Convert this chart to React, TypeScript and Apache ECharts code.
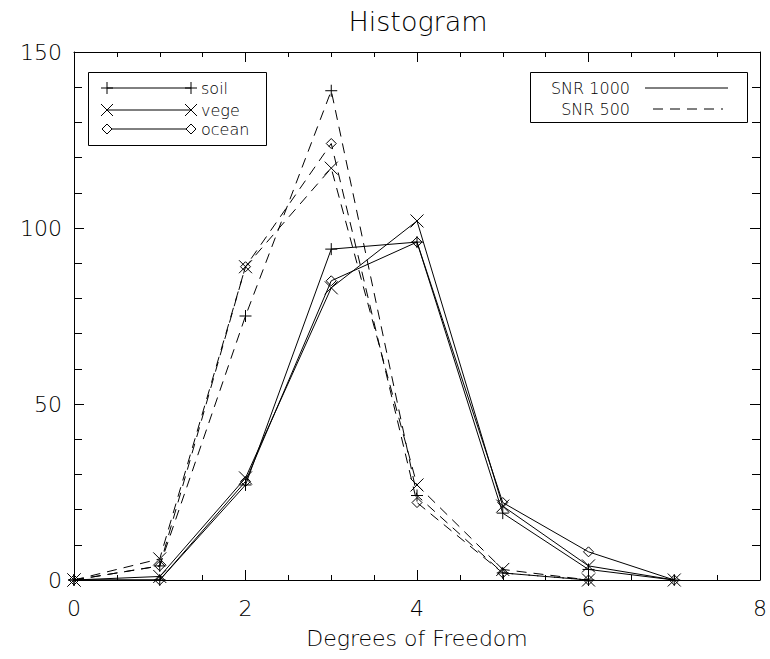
import React, { useEffect, useRef } from "react";
import * as echarts from "echarts";

const degrees1000 = [0, 1, 2, 3, 4, 5, 6, 7];
const soil1000 = [0, 0, 27, 94, 96, 19, 3, 0];
const vege1000 = [0, 1, 29, 83, 102, 21, 4, 0];
const ocean1000 = [0, 0, 28, 85, 96, 22, 8, 0];

const degrees500 = [0, 1, 2, 3, 4, 5, 6];
const soil500 = [0, 4, 75, 139, 24, 2, 0];
const vege500 = [0, 6, 89, 117, 27, 3, 0];
const ocean500 = [0, 4, 89, 124, 22, 2, 0];

const surfaceNames = ["soil", "vege", "ocean"];
const snrNames = ["SNR 1000", "SNR 500"];

const FONT = "DejaVu Sans";
const BLACK = "#000";
const DASH = [10, 7];

const PLUS = "path://M5,0L5,10M0,5L10,5";
const CROSS = "path://M0,0L10,10M10,0L0,10";
const DIAMOND = "path://M5,0L10,5L5,10L0,5Z";
const symbols = [PLUS, CROSS, DIAMOND];
const symbolSizes = [12, 13, 10];

function pairs(xs: number[], ys: number[]) {
  return xs.map((x, i) => [x, ys[i]]);
}

function makeSeries(name: string, xs: number[], ys: number[], idx: number, dashed: boolean) {
  return {
    name,
    type: "line",
    data: pairs(xs, ys),
    symbol: symbols[idx],
    symbolSize: symbolSizes[idx],
    showAllSymbol: true,
    itemStyle: { color: "rgba(0,0,0,0)", borderColor: BLACK, borderWidth: 1 },
    lineStyle: { color: BLACK, width: 1, type: dashed ? DASH : "solid" },
    emphasis: { disabled: true },
    z: 3,
  };
}

function legendMarker(kind: number, cx: number, cy: number) {
  const st = { stroke: BLACK, lineWidth: 1, fill: "none" };
  if (kind === 0) {
    return [
      { type: "line", shape: { x1: cx - 6, y1: cy, x2: cx + 6, y2: cy }, style: st },
      { type: "line", shape: { x1: cx, y1: cy - 6, x2: cx, y2: cy + 6 }, style: st },
    ];
  }
  if (kind === 1) {
    return [
      { type: "line", shape: { x1: cx - 6, y1: cy - 6, x2: cx + 6, y2: cy + 6 }, style: st },
      { type: "line", shape: { x1: cx + 6, y1: cy - 6, x2: cx - 6, y2: cy + 6 }, style: st },
    ];
  }
  return [
    {
      type: "polygon",
      shape: { points: [[cx, cy - 5], [cx + 5, cy], [cx, cy + 5], [cx - 5, cy]] },
      style: { stroke: BLACK, lineWidth: 1, fill: "#fff" },
    },
  ];
}

function axisCommon() {
  return {
    type: "value",
    axisLine: { show: true, onZero: false, lineStyle: { color: BLACK, width: 1 } },
    splitLine: { show: false },
  };
}

export default function App() {
  const ref = useRef<HTMLDivElement>(null);
  useEffect(() => {
    document.body.style.margin = "0";
    if (!ref.current) return;
    const chart = echarts.init(ref.current, undefined, { renderer: "svg" });

    const leftRows = [88, 110, 129];
    const leftLegend: any[] = [
      { type: "rect", shape: { x: 88.5, y: 72.5, width: 178, height: 73 }, style: { fill: "#fff", stroke: BLACK, lineWidth: 1 }, z: 10 },
    ];
    surfaceNames.forEach((n, i) => {
      const y = leftRows[i];
      leftLegend.push({ type: "line", shape: { x1: 107, y1: y, x2: 191, y2: y }, style: { stroke: BLACK, lineWidth: 1 }, z: 11 });
      legendMarker(i, 107, y).forEach((m) => leftLegend.push({ ...m, z: 12 }));
      legendMarker(i, 191, y).forEach((m) => leftLegend.push({ ...m, z: 12 }));
      leftLegend.push({
        type: "text",
        x: 201,
        y,
        style: { text: n, fontFamily: FONT, fontWeight: 200, fontSize: 16, fill: BLACK, align: "left", verticalAlign: "middle" },
        z: 12,
      });
    });

    const rightRows = [88, 109];
    const rightLegend: any[] = [
      { type: "rect", shape: { x: 530.5, y: 72.5, width: 217, height: 50 }, style: { fill: "#fff", stroke: BLACK, lineWidth: 1 }, z: 10 },
    ];
    snrNames.forEach((n, i) => {
      const y = rightRows[i];
      rightLegend.push({
        type: "text",
        x: 630,
        y,
        style: { text: n, fontFamily: FONT, fontWeight: 200, fontSize: 16, fill: BLACK, align: "right", verticalAlign: "middle" },
        z: 12,
      });
      rightLegend.push({
        type: "line",
        shape: i === 0 ? { x1: 645, y1: y, x2: 728, y2: y } : { x1: 653, y1: y, x2: 723, y2: y },
        style: { stroke: BLACK, lineWidth: 1, lineDash: i === 0 ? null : DASH },
        z: 11,
      });
    });

    const xBase = {
      ...axisCommon(),
      min: 0,
      max: 8,
      interval: 2,
      axisTick: { show: true, inside: true, length: 10, lineStyle: { color: BLACK } },
      minorTick: { show: true, splitNumber: 4, length: 5, lineStyle: { color: BLACK } },
    };
    const yBase = {
      ...axisCommon(),
      min: 0,
      max: 150,
      interval: 50,
      axisTick: { show: true, inside: true, length: 10, lineStyle: { color: BLACK } },
      minorTick: { show: true, splitNumber: 5, length: 8, lineStyle: { color: BLACK } },
    };
    const labelStyle = { fontFamily: FONT, fontWeight: 200, fontSize: 22, color: BLACK };

    const series: any[] = [];
    [soil1000, vege1000, ocean1000].forEach((d, i) => series.push(makeSeries(surfaceNames[i] + " " + snrNames[0], degrees1000, d, i, false)));
    [soil500, vege500, ocean500].forEach((d, i) => series.push(makeSeries(surfaceNames[i] + " " + snrNames[1], degrees500, d, i, true)));

    chart.setOption({
      animation: false,
      backgroundColor: "#fff",
      grid: { left: 74, right: 9, top: 52, bottom: 79, containLabel: false },
      xAxis: [
        {
          ...xBase,
          position: "bottom",
          axisLabel: { ...labelStyle, margin: 17 },
          name: "Degrees of Freedom",
          nameLocation: "middle",
          nameGap: 47,
          nameTextStyle: { fontFamily: FONT, fontWeight: 200, fontSize: 22, color: BLACK },
        },
        { ...xBase, position: "top", axisLabel: { show: false } },
      ],
      yAxis: [
        { ...yBase, position: "left", axisLabel: { ...labelStyle, margin: 12 } },
        { ...yBase, position: "right", axisLabel: { show: false } },
      ],
      series,
      graphic: [
        {
          type: "text",
          x: 418,
          y: 21,
          style: { text: "Histogram", fontFamily: FONT, fontWeight: 200, fontSize: 27, fill: BLACK, align: "center", verticalAlign: "middle" },
        },
        ...leftLegend,
        ...rightLegend,
      ],
    });
    return () => chart.dispose();
  }, []);
  return <div ref={ref} style={{ width: 770, height: 659 }} />;
}
